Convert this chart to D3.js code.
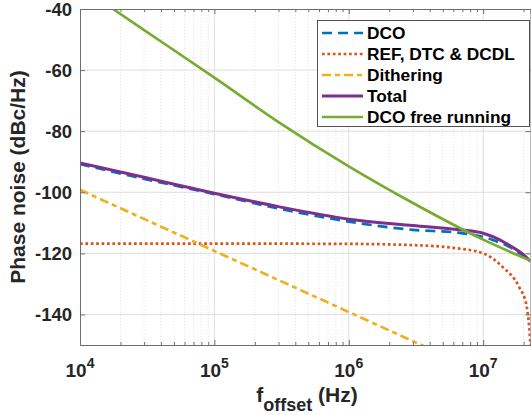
<!DOCTYPE html>
<html>
<head>
<meta charset="utf-8">
<script src="https://cdn.jsdelivr.net/npm/d3@7"></script>
<style>
  html, body { margin: 0; padding: 0; background: #fff; }
  svg { display: block; font-family: "Liberation Sans", Arial, sans-serif; font-weight: bold; }
</style>
</head>
<body>
<svg id="chart" width="531" height="415"></svg>
<script>
"use strict";

// Series names, in plot order
const seriesNames = ["DCO", "REF, DTC & DCDL", "Dithering", "Total", "DCO free running"];

// Values (offset frequency in Hz, phase noise in dBc/Hz)
const dcoFreq  = [1e4, 3e4, 1e5, 3e5, 1e6, 3e6, 6.7e6, 1e7, 1.33e7, 1.5e7, 2e7, 2.25e7];
const dcoPN    = [-90.8, -95.6, -100.6, -105.3, -109.6, -112.3, -113.3, -114.6, -116.5, -117.4, -121, -122.6];

const refFreq  = [1e4, 1e5, 1e6, 3e6, 6e6, 1e7, 1.4e7, 1.85e7, 2.1e7, 2.2e7, 2.25e7];
const refPN    = [-116.8, -116.8, -116.9, -117.3, -118.2, -120, -124.5, -131, -137, -144, -150];

const ditherFreq = [1e4, 1e5, 1e6, 1e7];
const ditherPN   = [-99.2, -119.2, -139.2, -159.2];

const totalFreq = [1e4, 3e4, 1e5, 3e5, 1e6, 3e6, 6.7e6, 1e7, 1.33e7, 1.5e7, 2e7, 2.25e7];
const totalPN   = [-90.4, -95.1, -100.3, -104.7, -108.8, -110.9, -112.3, -113.4, -115.6, -116.9, -120.5, -122.6];

const freeFreq = [1e4, 1.76e4, 3e4, 1e5, 3e5, 1e6, 3e6, 1e7, 2.25e7];
const freePN   = [-32.7, -40, -46.9, -62.5, -77, -91.5, -103.5, -115.5, -122.4];

// Axis ranges and ticks
const xDomain = [1e4, 2.25e7];
const yDomain = [-150, -40];
const xMajor = [1e4, 1e5, 1e6, 1e7];
const xExponents = ["4", "5", "6", "7"];
const yMajor = [-140, -120, -100, -80, -60, -40];

const colors = ["#0072BD", "#D95319", "#EDB120", "#7E2F8E", "#77AC30"];
const dashes = ["10,6", "2.7,2.7", "9,4,5,4", null, null];
const widths = [2.7, 2.7, 2.7, 3, 2.7];

const plot = { left: 80, top: 9, right: 530.5, bottom: 345 };

const svg = d3.select("#chart");

const x = d3.scaleLog().domain(xDomain).range([plot.left, plot.right]);
const y = d3.scaleLinear().domain(yDomain).range([plot.bottom, plot.top]);

// minor ticks for log axis
const xMinor = [];
for (let e = 4; e <= 7; e++) {
  for (let m = 2; m <= 9; m++) {
    const v = m * Math.pow(10, e);
    if (v < xDomain[1]) xMinor.push(v);
  }
}

// Grid
const grid = svg.append("g");
grid.selectAll(".minor").data(xMinor)
  .enter().append("line")
    .attr("x1", d => x(d)).attr("x2", d => x(d))
    .attr("y1", plot.top).attr("y2", plot.bottom)
    .attr("stroke", "#cfcfcf").attr("stroke-width", 0.6)
    .attr("stroke-dasharray", "1,2");

grid.selectAll(".xmaj").data(xMajor.slice(1))
  .enter().append("line")
    .attr("x1", d => x(d)).attr("x2", d => x(d))
    .attr("y1", plot.top).attr("y2", plot.bottom)
    .attr("stroke", "#dedede").attr("stroke-width", 1);

grid.selectAll(".ymaj").data(yMajor.slice(0, -1))
  .enter().append("line")
    .attr("x1", plot.left).attr("x2", plot.right)
    .attr("y1", d => y(d)).attr("y2", d => y(d))
    .attr("stroke", "#dedede").attr("stroke-width", 1);

// Curves
svg.append("defs").append("clipPath").attr("id", "clip")
  .append("rect")
    .attr("x", plot.left).attr("y", plot.top)
    .attr("width", plot.right - plot.left).attr("height", plot.bottom - plot.top);

const series = [
  { f: dcoFreq, v: dcoPN },
  { f: refFreq, v: refPN },
  { f: ditherFreq, v: ditherPN },
  { f: totalFreq, v: totalPN },
  { f: freeFreq, v: freePN }
];

const line = d3.line()
    .x(d => x(d[0]))
    .y(d => y(d[1]))
    .curve(d3.curveMonotoneX);

svg.append("g").attr("clip-path", "url(#clip)")
  .selectAll("path").data(series)
  .enter().append("path")
    .attr("d", d => line(d.f.map((f, i) => [f, d.v[i]])))
    .attr("fill", "none")
    .attr("stroke", (d, i) => colors[i])
    .attr("stroke-width", (d, i) => widths[i])
    .attr("stroke-dasharray", (d, i) => dashes[i]);

// Axes box and ticks (inward, as in MATLAB)
const axisColor = "#6e6e6e";
const ax = svg.append("g");

ax.append("g")
    .attr("transform", "translate(0," + plot.bottom + ")")
    .call(d3.axisBottom(x).tickValues(xMajor).tickSize(-5).tickFormat(""));
ax.append("g")
    .attr("transform", "translate(0," + plot.top + ")")
    .call(d3.axisTop(x).tickValues(xMajor).tickSize(-5).tickFormat(""));
ax.append("g")
    .attr("transform", "translate(0," + plot.bottom + ")")
    .call(d3.axisBottom(x).tickValues(xMinor).tickSize(-3).tickFormat(""))
    .select(".domain").remove();
ax.append("g")
    .attr("transform", "translate(0," + plot.top + ")")
    .call(d3.axisTop(x).tickValues(xMinor).tickSize(-3).tickFormat(""))
    .select(".domain").remove();
ax.append("g")
    .attr("transform", "translate(" + plot.left + ",0)")
    .call(d3.axisLeft(y).tickValues(yMajor).tickSize(-5).tickFormat(""));
ax.append("g")
    .attr("transform", "translate(" + plot.right + ",0)")
    .call(d3.axisRight(y).tickValues(yMajor).tickSize(-5).tickFormat(""));

ax.selectAll("path.domain").attr("stroke", axisColor).attr("stroke-width", 1);
ax.selectAll(".tick line").attr("stroke", axisColor).attr("stroke-width", 1);

// Y tick labels
svg.append("g").selectAll("text").data(yMajor)
  .enter().append("text")
    .attr("x", 72)
    .attr("y", d => y(d))
    .attr("dy", "0.36em")
    .attr("text-anchor", "end")
    .attr("font-size", 18.5)
    .attr("fill", "#262626")
    .text(d => d);

// X tick labels, 10^n
const xt = svg.append("g").selectAll("text").data(xMajor)
  .enter().append("text")
    .attr("x", d => x(d))
    .attr("y", 377)
    .attr("text-anchor", "middle")
    .attr("font-size", 19)
    .attr("fill", "#262626");
xt.append("tspan").text("10");
xt.append("tspan").attr("dy", -9).attr("font-size", 14).text((d, i) => xExponents[i]);

// Axis labels
const xl = svg.append("text")
    .attr("x", 307)
    .attr("y", 402)
    .attr("text-anchor", "middle")
    .attr("font-size", 21)
    .attr("fill", "#262626");
xl.append("tspan").text("f");
xl.append("tspan").attr("dy", 9).attr("font-size", 18).text("offset");
xl.append("tspan").attr("dy", -9).text(" (Hz)");

svg.append("text")
    .attr("transform", "translate(25," + ((plot.top + plot.bottom) / 2) + ") rotate(-90)")
    .attr("text-anchor", "middle")
    .attr("font-size", 21)
    .attr("fill", "#262626")
    .text("Phase noise (dBc/Hz)");

// Legend
const legend = svg.append("g");
legend.append("rect")
    .attr("x", 317.5).attr("y", 20.5)
    .attr("width", 212).attr("height", 106)
    .attr("fill", "#fff")
    .attr("stroke", "#262626").attr("stroke-width", 0.8);

const rowY = d3.scaleLinear().domain([0, 4]).range([33, 117]);

const items = legend.selectAll(".item").data(seriesNames)
  .enter().append("g");

items.append("line")
    .attr("x1", 322).attr("x2", 363)
    .attr("y1", (d, i) => rowY(i)).attr("y2", (d, i) => rowY(i))
    .attr("stroke", (d, i) => colors[i])
    .attr("stroke-width", (d, i) => widths[i])
    .attr("stroke-dasharray", (d, i) => dashes[i]);

items.append("text")
    .attr("x", 367)
    .attr("y", (d, i) => rowY(i))
    .attr("dy", "0.36em")
    .attr("font-size", 17.3)
    .attr("fill", "#000")
    .text(d => d);
</script>
</body>
</html>
